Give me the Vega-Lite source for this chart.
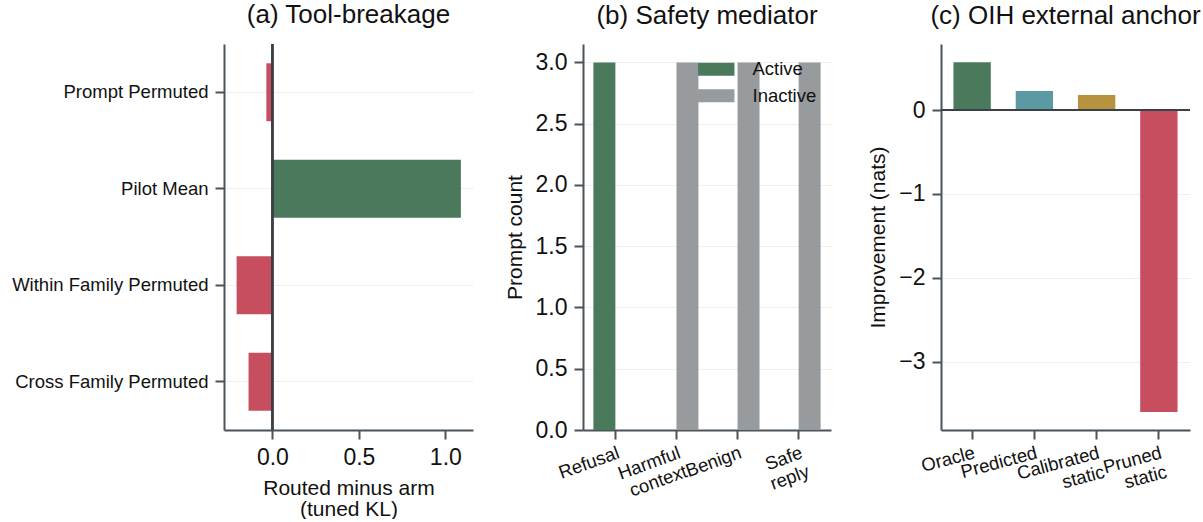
{
  "$schema": "https://vega.github.io/schema/vega-lite/v6.json",
  "background": "white",
  "padding": {"left": 11, "top": 2, "right": 0, "bottom": 0},
  "bounds": "flush",
  "spacing": 110,
  "resolve": {"scale": {"color": "independent"}, "legend": {"color": "independent"}},
  "config": {
    "font": "Liberation Sans",
    "view": {"stroke": null},
    "axis": {
      "domainColor": "#4b535b", "domainWidth": 2, "tickColor": "#4b535b", "tickWidth": 2, "tickSize": 9,
      "labelColor": "#111111", "titleColor": "#111111", "labelFont": "Liberation Sans", "titleFont": "Liberation Sans",
      "titleFontWeight": "normal", "gridColor": "#f0f0ea", "gridWidth": 1, "labelPadding": 7, "labelLimit": 400,
      "titleFontSize": 21, "labelFontSize": 23
    },
    "title": {"fontSize": 26, "fontWeight": "normal", "font": "Liberation Sans", "color": "#111111", "offset": 15, "baseline": "alphabetic", "anchor": "middle"},
    "legend": {"labelFont": "Liberation Sans", "labelColor": "#111111"}
  },
  "hconcat": [
    {
      "width": 249, "height": 386,
      "title": "(a) Tool-breakage",
      "data": {"values": [
        {"arm": "Prompt Permuted", "value": -0.035},
        {"arm": "Pilot Mean", "value": 1.09},
        {"arm": "Within Family Permuted", "value": -0.207},
        {"arm": "Cross Family Permuted", "value": -0.138}
      ]},
      "layer": [
        {
          "mark": {"type": "bar"},
          "encoding": {
            "y": {"field": "arm", "type": "nominal", "sort": null,
              "scale": {"paddingInner": 0.4, "paddingOuter": 0.2},
              "axis": {"title": null, "labelFontSize": 18.5, "grid": true, "labelPadding": 7}},
            "x": {"field": "value", "type": "quantitative",
              "scale": {"domain": [-0.28, 1.16], "nice": false, "zero": false},
              "axis": {"values": [0, 0.5, 1], "format": ".1f", "title": ["Routed minus arm", "(tuned KL)"], "grid": false, "titlePadding": 8, "titleLineHeight": 21}},
            "color": {"condition": {"test": "datum.value > 0", "value": "#4a7a5b"}, "value": "#c64e5f"}
          }
        },
        {
          "mark": {"type": "rule", "color": "#3a4046", "strokeWidth": 2},
          "encoding": {"x": {"datum": 0}}
        }
      ]
    },
    {
      "width": 248, "height": 386,
      "title": "(b) Safety mediator",
      "data": {"values": [
        {"cat": "Refusal", "status": "Active", "count": 3},
        {"cat": "Refusal", "status": "Inactive", "count": 0},
        {"cat": "Harmful context", "status": "Active", "count": 0},
        {"cat": "Harmful context", "status": "Inactive", "count": 3},
        {"cat": "Benign", "status": "Active", "count": 0},
        {"cat": "Benign", "status": "Inactive", "count": 3},
        {"cat": "Safe reply", "status": "Active", "count": 0},
        {"cat": "Safe reply", "status": "Inactive", "count": 3}
      ]},
      "mark": {"type": "bar"},
      "encoding": {
        "x": {"field": "cat", "type": "nominal", "sort": ["Refusal", "Harmful context", "Benign", "Safe reply"],
          "scale": {"paddingInner": 0.28, "paddingOuter": 0.17},
          "axis": {"title": null, "labelAngle": -20, "labelAlign": "right", "labelBaseline": "top", "labelFontSize": 18.5, "labelPadding": 4,
            "labelExpr": "split(datum.label, ' ')", "labelLineHeight": 20, "grid": false}},
        "xOffset": {"field": "status", "type": "nominal", "sort": ["Active", "Inactive"], "scale": {"paddingInner": 0, "paddingOuter": 0}},
        "y": {"field": "count", "type": "quantitative",
          "scale": {"domain": [0, 3.15], "nice": false},
          "axis": {"values": [0, 0.5, 1, 1.5, 2, 2.5, 3], "format": ".1f", "title": "Prompt count", "grid": true, "titlePadding": 10}},
        "color": {"field": "status", "type": "nominal",
          "scale": {"domain": ["Active", "Inactive"], "range": ["#4a7a5b", "#979b9e"]},
          "legend": {"title": null, "orient": "none", "legendX": 124, "legendY": 16,
            "symbolType": "M-2.8,-1H2.8V1H-2.8Z", "symbolSize": 169, "symbolStrokeWidth": 0,
            "labelFontSize": 18.5, "labelOffset": 27, "rowPadding": 7.5, "padding": 0}}
      }
    },
    {
      "width": 249, "height": 386,
      "title": "(c) OIH external anchor",
      "data": {"values": [
        {"method": "Oracle", "value": 0.57},
        {"method": "Predicted", "value": 0.226},
        {"method": "Calibrated static", "value": 0.18},
        {"method": "Pruned static", "value": -3.595}
      ]},
      "layer": [
        {
          "mark": {"type": "bar"},
          "encoding": {
            "x": {"field": "method", "type": "nominal", "sort": null,
              "scale": {"paddingInner": 0.4, "paddingOuter": 0.2},
              "axis": {"title": null, "labelAngle": -15, "labelAlign": "right", "labelBaseline": "top", "labelFontSize": 18.5, "labelPadding": 4,
                "labelExpr": "split(datum.label, ' ')", "labelLineHeight": 20}},
            "y": {"field": "value", "type": "quantitative",
              "scale": {"domain": [-3.81, 0.786], "nice": false, "zero": false},
              "axis": {"values": [-3, -2, -1, 0], "format": "d", "title": "Improvement (nats)", "grid": true, "titlePadding": 10}},
            "color": {"field": "method", "type": "nominal",
              "scale": {"domain": ["Oracle", "Predicted", "Calibrated static", "Pruned static"], "range": ["#4a7a5b", "#5b9aa3", "#b8933f", "#c64e5f"]},
              "legend": null}
          }
        },
        {
          "mark": {"type": "rule", "color": "#3a4046", "strokeWidth": 2},
          "encoding": {"y": {"datum": 0}}
        }
      ]
    }
  ]
}
